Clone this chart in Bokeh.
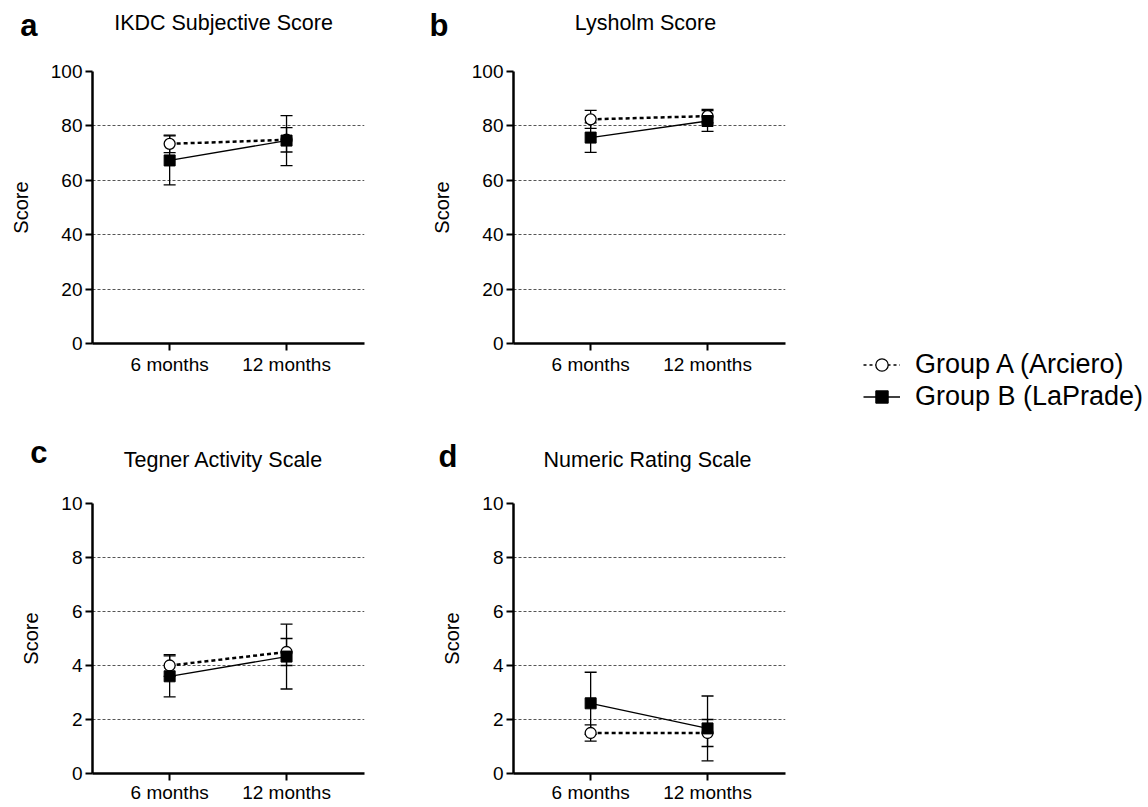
from bokeh.plotting import figure
from bokeh.models import (ColumnDataSource, Whisker, TeeHead, Range1d, Label,
                          Legend, LegendItem, LinearAxis, FixedTicker)
from bokeh.layouts import row, column
from bokeh.embed import file_html
from bokeh.resources import INLINE

# ---------------- data ----------------
timepoints = ["6 months", "12 months"]

panel_letters = ["a", "b", "c", "d"]
panel_titles = ["IKDC Subjective Score", "Lysholm Score",
                "Tegner Activity Scale", "Numeric Rating Scale"]
y_max = [100, 100, 10, 10]
y_ticks = [[0, 20, 40, 60, 80, 100], [0, 20, 40, 60, 80, 100],
           [0, 2, 4, 6, 8, 10], [0, 2, 4, 6, 8, 10]]

group_a_label = "Group A (Arciero)"
group_b_label = "Group B (LaPrade)"

ikdc_a_mean = [73.4, 74.9]
ikdc_a_err = [3.2, 4.5]
ikdc_b_mean = [67.3, 74.6]
ikdc_b_err = [9.0, 9.2]

lysholm_a_mean = [82.4, 83.6]
lysholm_a_err = [3.3, 2.5]
lysholm_b_mean = [75.7, 81.8]
lysholm_b_err = [5.4, 3.8]

tegner_a_mean = [4.0, 4.5]
tegner_a_err = [0.4, 0.5]
tegner_b_mean = [3.6, 4.33]
tegner_b_err = [0.76, 1.2]

nrs_a_mean = [1.5, 1.5]
nrs_a_err = [0.3, 0.5]
nrs_b_mean = [2.6, 1.67]
nrs_b_err = [1.15, 1.2]

series = [
    (ikdc_a_mean, ikdc_a_err, ikdc_b_mean, ikdc_b_err),
    (lysholm_a_mean, lysholm_a_err, lysholm_b_mean, lysholm_b_err),
    (tegner_a_mean, tegner_a_err, tegner_b_mean, tegner_b_err),
    (nrs_a_mean, nrs_a_err, nrs_b_mean, nrs_b_err),
]

# ---------------- styling / layout ----------------
FONT = "Liberation Sans"
FRAME_W = 272
LEFT = 92
TOP = 12
# (figure width, header height, panel height, bottom border, x-label standoff)
panel_boxes = [(421, 59, 375, 91, 3), (400, 59, 375, 91, 3),
               (421, 57, 314, 32, 1), (400, 57, 314, 32, 1)]
# panel letter: (standoff left of frame, vertical middle from header bottom)
letter_pos = [(55, 34), (65, 34), (45, 40), (56, 35)]
# panel title: (centre from frame left, baseline from header bottom)
title_pos = [(131, 37), (132, 37), (131, 32), (134, 32)]

xs = [i + 1 for i in range(len(timepoints))]


def make_header(k):
    width, hh, _, _, _ = panel_boxes[k]
    h = figure(width=width, height=hh, x_range=Range1d(0, 1), y_range=Range1d(0, hh),
               output_backend="svg", toolbar_location=None,
               x_axis_type=None, y_axis_type=None, min_border=0)
    h.outline_line_color = None
    h.grid.visible = False
    standoff, ymid = letter_pos[k]
    ax = LinearAxis(ticker=FixedTicker(ticks=[ymid]),
                    major_label_overrides={ymid: panel_letters[k]},
                    axis_line_color=None, major_tick_line_color=None,
                    minor_tick_line_color=None, major_tick_out=0, major_tick_in=0,
                    major_label_standoff=standoff,
                    major_label_text_font=FONT, major_label_text_font_size="31px",
                    major_label_text_font_style="bold",
                    major_label_text_color="black")
    h.add_layout(ax, "left")
    tx, ty = title_pos[k]
    h.add_layout(Label(x=tx, y=ty, x_units="screen", y_units="screen",
                       text=panel_titles[k], text_font=FONT, text_font_size="21.5px",
                       text_color="black", text_baseline="alphabetic", text_align="center"))
    return h


def make_panel(k):
    width, _, height, bottom, xstand = panel_boxes[k]
    a_mean, a_err, b_mean, b_err = series[k]
    p = figure(width=width, height=height,
               x_range=Range1d(0.34, 2.667), y_range=Range1d(0, y_max[k]),
               output_backend="svg", toolbar_location=None,
               min_border_left=LEFT, min_border_right=width - LEFT - FRAME_W,
               min_border_top=TOP, min_border_bottom=bottom)
    p.outline_line_color = None

    p.xgrid.visible = False
    p.ygrid.grid_line_color = "#555555"
    p.ygrid.grid_line_dash = "3 2"
    p.ygrid.grid_line_width = 1

    p.xaxis.ticker = xs
    p.xaxis.major_label_overrides = {x: t for x, t in zip(xs, timepoints)}
    p.yaxis.ticker = y_ticks[k]
    for ax in (p.xaxis, p.yaxis):
        ax.axis_line_width = 2.5
        ax.axis_line_color = "black"
        ax.major_tick_line_width = 2
        ax.major_tick_line_color = "black"
        ax.major_tick_out = 7
        ax.major_tick_in = 0
        ax.minor_tick_line_color = None
        ax.major_label_text_font = FONT
        ax.major_label_text_font_size = "19px"
        ax.major_label_text_color = "black"
    p.xaxis.major_label_standoff = xstand
    p.yaxis.major_label_standoff = 3
    p.yaxis.axis_label = "Score"
    p.yaxis.axis_label_text_font = FONT
    p.yaxis.axis_label_text_font_size = "20px"
    p.yaxis.axis_label_text_font_style = "normal"
    p.yaxis.axis_label_text_color = "black"
    p.yaxis.axis_label_standoff = 16

    src_a = ColumnDataSource(dict(x=xs, y=a_mean,
                                  lo=[m - e for m, e in zip(a_mean, a_err)],
                                  hi=[m + e for m, e in zip(a_mean, a_err)]))
    src_b = ColumnDataSource(dict(x=xs, y=b_mean,
                                  lo=[m - e for m, e in zip(b_mean, b_err)],
                                  hi=[m + e for m, e in zip(b_mean, b_err)]))

    p.line("x", "y", source=src_a, line_color="black", line_width=2.5, line_dash="4 3")
    p.line("x", "y", source=src_b, line_color="black", line_width=1.3)

    for src in (src_a, src_b):
        w = Whisker(base="x", upper="hi", lower="lo", source=src, dimension="height",
                    line_color="black", line_width=1.3,
                    upper_head=TeeHead(size=12, line_width=1.3, line_color="black"),
                    lower_head=TeeHead(size=12, line_width=1.3, line_color="black"))
        p.add_layout(w)

    p.scatter("x", "y", source=src_a, marker="circle", size=11,
              fill_color="white", line_color="black", line_width=1.3)
    p.scatter("x", "y", source=src_b, marker="square", size=11,
              fill_color="black", line_color="black")
    return p


cols = []
for k in range(4):
    cols.append((make_header(k), make_panel(k)))

# ---------------- legend ----------------
lf = figure(width=325, height=806, x_range=Range1d(0, 1), y_range=Range1d(0, 1),
            output_backend="svg", toolbar_location=None,
            x_axis_type=None, y_axis_type=None, min_border=0)
lf.outline_line_color = None
lf.grid.visible = False


def proxy():
    # legend-only proxy (NaN point is never drawn in the plot area)
    return ColumnDataSource(dict(x=[float("nan")], y=[float("nan")]))


ra_line = lf.line("x", "y", source=proxy(), line_color="black",
                  line_width=1.3, line_dash="3 3")
ra_pt = lf.scatter("x", "y", source=proxy(), marker="circle", size=10,
                   fill_color="white", line_color="black", line_width=1.3)
rb_line = lf.line("x", "y", source=proxy(), line_color="black", line_width=1.5)
rb_pt = lf.scatter("x", "y", source=proxy(), marker="square", size=10,
                   fill_color="black", line_color="black")
legend = Legend(items=[LegendItem(label=group_a_label, renderers=[ra_line, ra_pt]),
                       LegendItem(label=group_b_label, renderers=[rb_line, rb_pt])],
                location=(42, 394), glyph_width=37, glyph_height=31, label_height=31,
                spacing=1, padding=0, margin=0, border_line_color=None,
                background_fill_alpha=0, label_standoff=15,
                label_text_font=FONT, label_text_font_size="27px",
                label_text_color="black")
lf.add_layout(legend)

layout = row(column(cols[0][0], cols[0][1], cols[2][0], cols[2][1]),
             column(cols[1][0], cols[1][1], cols[3][0], cols[3][1]),
             lf)

open("out.html", "w").write(file_html(layout, INLINE))
